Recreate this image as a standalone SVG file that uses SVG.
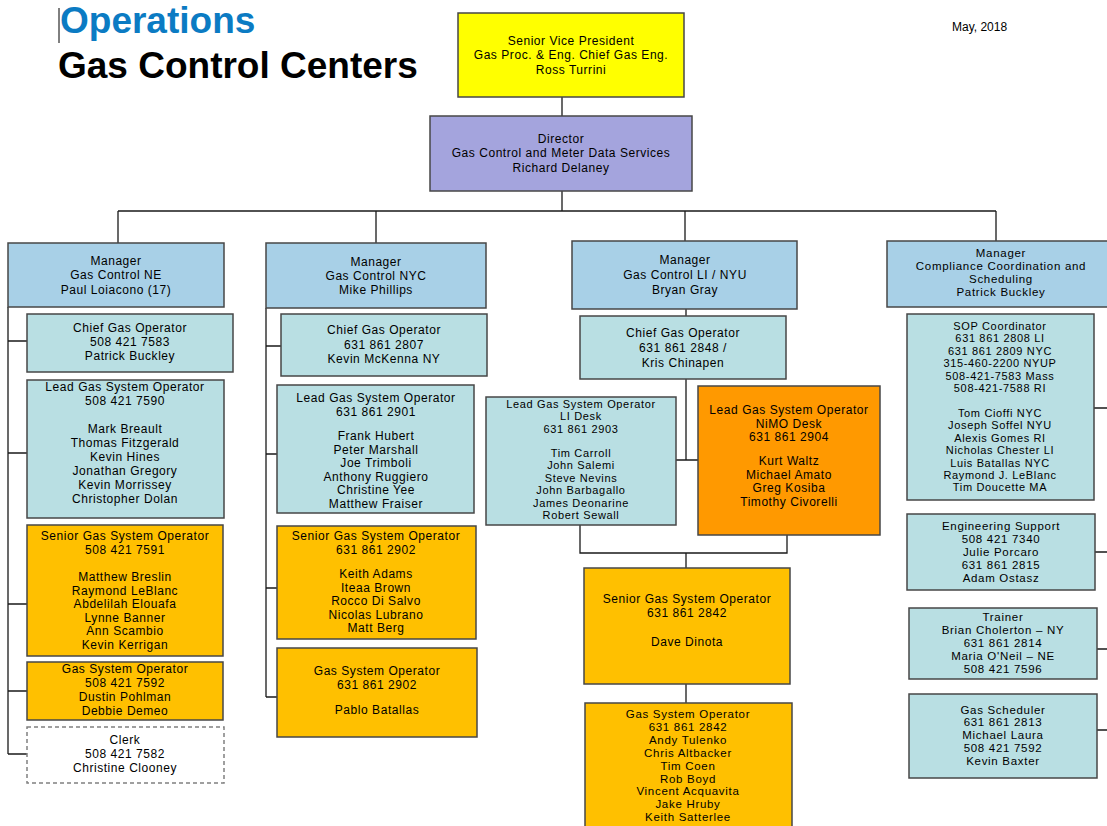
<svg xmlns="http://www.w3.org/2000/svg" width="1107" height="826" viewBox="0 0 1107 826">
<style>
.b{stroke:#474747;stroke-width:1.5}
.mgr{fill:#a8d0e7}
.tl{fill:#b9dfe3}
.gold{fill:#ffc000}
.org{fill:#ff9900}
.t{font-family:"Liberation Sans",Arial,sans-serif;font-size:12px;letter-spacing:0.55px;fill:#000;text-anchor:middle}
.s{font-size:11.5px;letter-spacing:0.7px}
.xs{font-size:11px;letter-spacing:0.65px}
.c{stroke:#1a1a1a;stroke-width:1.3;fill:none}
</style>
<rect width="1107" height="826" fill="#fff"/>
<g id="title">
<line x1="59" y1="8" x2="59" y2="43" stroke="#000" stroke-width="1"/>
<text x="60" y="33" font-family="Liberation Sans,Arial,sans-serif" font-weight="bold" font-size="37" fill="#0b7bc3">Operations</text>
<text x="58" y="78" font-family="Liberation Sans,Arial,sans-serif" font-weight="bold" font-size="37" fill="#000">Gas Control Centers</text>
<text x="952" y="31" font-family="Liberation Sans,Arial,sans-serif" font-size="12" fill="#000">May, 2018</text>
</g>
<g id="connectors">
<path class="c" d="M562 97V116M562 191V211M118 211H996M118 211V243M376 211V243M685 211V241M996 211V241"/>
<path class="c" d="M8 307V754M8 341H27M8 453H27M8 604H27M8 691H27M8 754H27"/>
<path class="c" d="M266 308V697M266 346H281M266 454H277M266 588H277M266 697H277"/>
<path class="c" d="M686 309V316M686 379V460M676 460H698M580 525V553H787V535M686 553V568M686 684V703"/>
<path class="c" d="M1094 408H1107M1095 552H1107M1097 649H1107M1097 730H1107"/>
</g>
<g id="svp">
<rect class="b" x="458" y="13" width="226" height="84" fill="#ffff00"/>
<text class="t"><tspan x="571" y="45">Senior Vice President</tspan><tspan x="571" y="59">Gas Proc. &amp; Eng. Chief Gas Eng.</tspan><tspan x="571" y="74">Ross Turrini</tspan></text>
</g>
<g id="director">
<rect class="b" x="430" y="116" width="262" height="75" fill="#a4a4dd"/>
<text class="t"><tspan x="561" y="143">Director</tspan><tspan x="561" y="157">Gas Control and Meter Data Services</tspan><tspan x="561" y="172">Richard Delaney</tspan></text>
</g>
<g id="mgr-ne">
<rect class="b mgr" x="8" y="243" width="216" height="64"/>
<text class="t"><tspan x="116" y="265">Manager</tspan><tspan x="116" y="279">Gas Control NE</tspan><tspan x="116" y="294">Paul Loiacono (17)</tspan></text>
</g>
<g id="chief-ne">
<rect class="b tl" x="27" y="314" width="206" height="58"/>
<text class="t"><tspan x="130" y="332">Chief Gas Operator</tspan><tspan x="130" y="346">508 421 7583</tspan><tspan x="130" y="360">Patrick Buckley</tspan></text>
</g>
<g id="lead-ne">
<rect class="b tl" x="27" y="380" width="197" height="138"/>
<text class="t"><tspan x="125" y="391">Lead Gas System Operator</tspan><tspan x="125" y="405">508 421 7590</tspan><tspan x="125" y="433">Mark Breault</tspan><tspan x="125" y="447">Thomas Fitzgerald</tspan><tspan x="125" y="461">Kevin Hines</tspan><tspan x="125" y="475">Jonathan Gregory</tspan><tspan x="125" y="489">Kevin Morrissey</tspan><tspan x="125" y="503">Christopher Dolan</tspan></text>
</g>
<g id="senior-ne">
<rect class="b gold" x="27" y="525" width="196" height="131"/>
<text class="t"><tspan x="125" y="540">Senior Gas System Operator</tspan><tspan x="125" y="554">508 421 7591</tspan><tspan x="125" y="581">Matthew Breslin</tspan><tspan x="125" y="594.5">Raymond LeBlanc</tspan><tspan x="125" y="608">Abdelilah Elouafa</tspan><tspan x="125" y="621.5">Lynne Banner</tspan><tspan x="125" y="635">Ann Scambio</tspan><tspan x="125" y="648.5">Kevin Kerrigan</tspan></text>
</g>
<g id="gso-ne">
<rect class="b gold" x="27" y="662" width="196" height="58"/>
<text class="t"><tspan x="125" y="673">Gas System Operator</tspan><tspan x="125" y="686.5">508 421 7592</tspan><tspan x="125" y="701">Dustin Pohlman</tspan><tspan x="125" y="715">Debbie Demeo</tspan></text>
</g>
<g id="clerk-ne">
<rect x="27" y="727" width="197" height="56" fill="#fff" stroke="#808080" stroke-width="1.5" stroke-dasharray="4 3"/>
<text class="t"><tspan x="125" y="744">Clerk</tspan><tspan x="125" y="758">508 421 7582</tspan><tspan x="125" y="772">Christine Clooney</tspan></text>
</g>
<g id="mgr-nyc">
<rect class="b mgr" x="266" y="243" width="220" height="65"/>
<text class="t"><tspan x="376" y="266">Manager</tspan><tspan x="376" y="279.5">Gas Control NYC</tspan><tspan x="376" y="294">Mike Phillips</tspan></text>
</g>
<g id="chief-nyc">
<rect class="b tl" x="281" y="314" width="206" height="62"/>
<text class="t"><tspan x="384" y="334">Chief Gas Operator</tspan><tspan x="384" y="349">631 861 2807</tspan><tspan x="384" y="363">Kevin McKenna NY</tspan></text>
</g>
<g id="lead-nyc">
<rect class="b tl" x="277" y="385" width="197" height="128"/>
<text class="t"><tspan x="376" y="402">Lead Gas System Operator</tspan><tspan x="376" y="416">631 861 2901</tspan><tspan x="376" y="440">Frank Hubert</tspan><tspan x="376" y="453.5">Peter Marshall</tspan><tspan x="376" y="467">Joe Trimboli</tspan><tspan x="376" y="480.5">Anthony Ruggiero</tspan><tspan x="376" y="494">Christine Yee</tspan><tspan x="376" y="507.5">Matthew Fraiser</tspan></text>
</g>
<g id="senior-nyc">
<rect class="b gold" x="277" y="526" width="199" height="113"/>
<text class="t"><tspan x="376" y="540">Senior Gas System Operator</tspan><tspan x="376" y="553.5">631 861 2902</tspan><tspan x="376" y="578">Keith Adams</tspan><tspan x="376" y="591.5">Iteaa Brown</tspan><tspan x="376" y="605">Rocco Di Salvo</tspan><tspan x="376" y="618.5">Nicolas Lubrano</tspan><tspan x="376" y="632">Matt Berg</tspan></text>
</g>
<g id="gso-nyc">
<rect class="b gold" x="277" y="648" width="200" height="89"/>
<text class="t"><tspan x="377" y="675">Gas System Operator</tspan><tspan x="377" y="689">631 861 2902</tspan><tspan x="377" y="714">Pablo Batallas</tspan></text>
</g>
<g id="mgr-li">
<rect class="b mgr" x="572" y="241" width="225" height="68"/>
<text class="t"><tspan x="685" y="264">Manager</tspan><tspan x="685" y="278.5">Gas Control LI / NYU</tspan><tspan x="685" y="294">Bryan Gray</tspan></text>
</g>
<g id="chief-li">
<rect class="b tl" x="580" y="316" width="206" height="63"/>
<text class="t"><tspan x="683" y="337">Chief Gas Operator</tspan><tspan x="683" y="352">631 861 2848 /</tspan><tspan x="683" y="367">Kris Chinapen</tspan></text>
</g>
<g id="lead-li">
<rect class="b tl" x="486" y="397" width="190" height="128"/>
<text class="t xs"><tspan x="581" y="408">Lead Gas System Operator</tspan><tspan x="581" y="420.4">LI Desk</tspan><tspan x="581" y="432.8">631 861 2903</tspan><tspan x="581" y="457">Tim Carroll</tspan><tspan x="581" y="469.4">John Salemi</tspan><tspan x="581" y="481.8">Steve Nevins</tspan><tspan x="581" y="494.2">John Barbagallo</tspan><tspan x="581" y="506.6">James Deonarine</tspan><tspan x="581" y="519">Robert Sewall</tspan></text>
</g>
<g id="lead-nimo">
<rect class="b org" x="698" y="386" width="182" height="149"/>
<text class="t"><tspan x="789" y="414">Lead Gas System Operator</tspan><tspan x="789" y="427.5">NiMO Desk</tspan><tspan x="789" y="441">631 861 2904</tspan><tspan x="789" y="465">Kurt Waltz</tspan><tspan x="789" y="478.5">Michael Amato</tspan><tspan x="789" y="492">Greg Kosiba</tspan><tspan x="789" y="505.5">Timothy Civorelli</tspan></text>
</g>
<g id="senior-li">
<rect class="b gold" x="584" y="568" width="206" height="116"/>
<text class="t"><tspan x="687" y="603">Senior Gas System Operator</tspan><tspan x="687" y="617">631 861 2842</tspan><tspan x="687" y="646">Dave Dinota</tspan></text>
</g>
<g id="gso-li">
<rect class="b gold" x="585" y="703" width="207" height="130"/>
<text class="t s"><tspan x="688" y="718">Gas System Operator</tspan><tspan x="688" y="730.9">631 861 2842</tspan><tspan x="688" y="743.8">Andy Tulenko</tspan><tspan x="688" y="756.7">Chris Altbacker</tspan><tspan x="688" y="769.6">Tim Coen</tspan><tspan x="688" y="782.5">Rob Boyd</tspan><tspan x="688" y="795.4">Vincent Acquavita</tspan><tspan x="688" y="808.3">Jake Hruby</tspan><tspan x="688" y="821.2">Keith Satterlee</tspan></text>
</g>
<g id="mgr-comp">
<rect class="b mgr" x="887" y="241" width="230" height="66"/>
<text class="t s"><tspan x="1001" y="257">Manager</tspan><tspan x="1001" y="269.9">Compliance Coordination and</tspan><tspan x="1001" y="282.8">Scheduling</tspan><tspan x="1001" y="295.7">Patrick Buckley</tspan></text>
</g>
<g id="sop">
<rect class="b tl" x="907" y="314" width="187" height="186"/>
<text class="t xs"><tspan x="1000" y="330">SOP Coordinator</tspan><tspan x="1000" y="342.4">631 861 2808 LI</tspan><tspan x="1000" y="354.8">631 861 2809 NYC</tspan><tspan x="1000" y="367.2">315-460-2200 NYUP</tspan><tspan x="1000" y="379.6">508-421-7583 Mass</tspan><tspan x="1000" y="392">508-421-7588 RI</tspan><tspan x="1000" y="417">Tom Cioffi NYC</tspan><tspan x="1000" y="429.4">Joseph Soffel NYU</tspan><tspan x="1000" y="441.8">Alexis Gomes RI</tspan><tspan x="1000" y="454.2">Nicholas Chester LI</tspan><tspan x="1000" y="466.6">Luis Batallas NYC</tspan><tspan x="1000" y="479">Raymond J. LeBlanc</tspan><tspan x="1000" y="491.4">Tim Doucette MA</tspan></text>
</g>
<g id="eng-support">
<rect class="b tl" x="907" y="514" width="188" height="76"/>
<text class="t s"><tspan x="1001" y="530">Engineering Support</tspan><tspan x="1001" y="542.9">508 421 7340</tspan><tspan x="1001" y="555.8">Julie Porcaro</tspan><tspan x="1001" y="568.7">631 861 2815</tspan><tspan x="1001" y="581.6">Adam Ostasz</tspan></text>
</g>
<g id="trainer">
<rect class="b tl" x="909" y="608" width="188" height="71"/>
<text class="t s"><tspan x="1003" y="621">Trainer</tspan><tspan x="1003" y="633.9">Brian Cholerton – NY</tspan><tspan x="1003" y="646.8">631 861 2814</tspan><tspan x="1003" y="659.7">Maria O'Neil – NE</tspan><tspan x="1003" y="672.6">508 421 7596</tspan></text>
</g>
<g id="scheduler">
<rect class="b tl" x="909" y="694" width="188" height="84"/>
<text class="t s"><tspan x="1003" y="713.5">Gas Scheduler</tspan><tspan x="1003" y="726.4">631 861 2813</tspan><tspan x="1003" y="739.3">Michael Laura</tspan><tspan x="1003" y="752.2">508 421 7592</tspan><tspan x="1003" y="765.1">Kevin Baxter</tspan></text>
</g>
</svg>
